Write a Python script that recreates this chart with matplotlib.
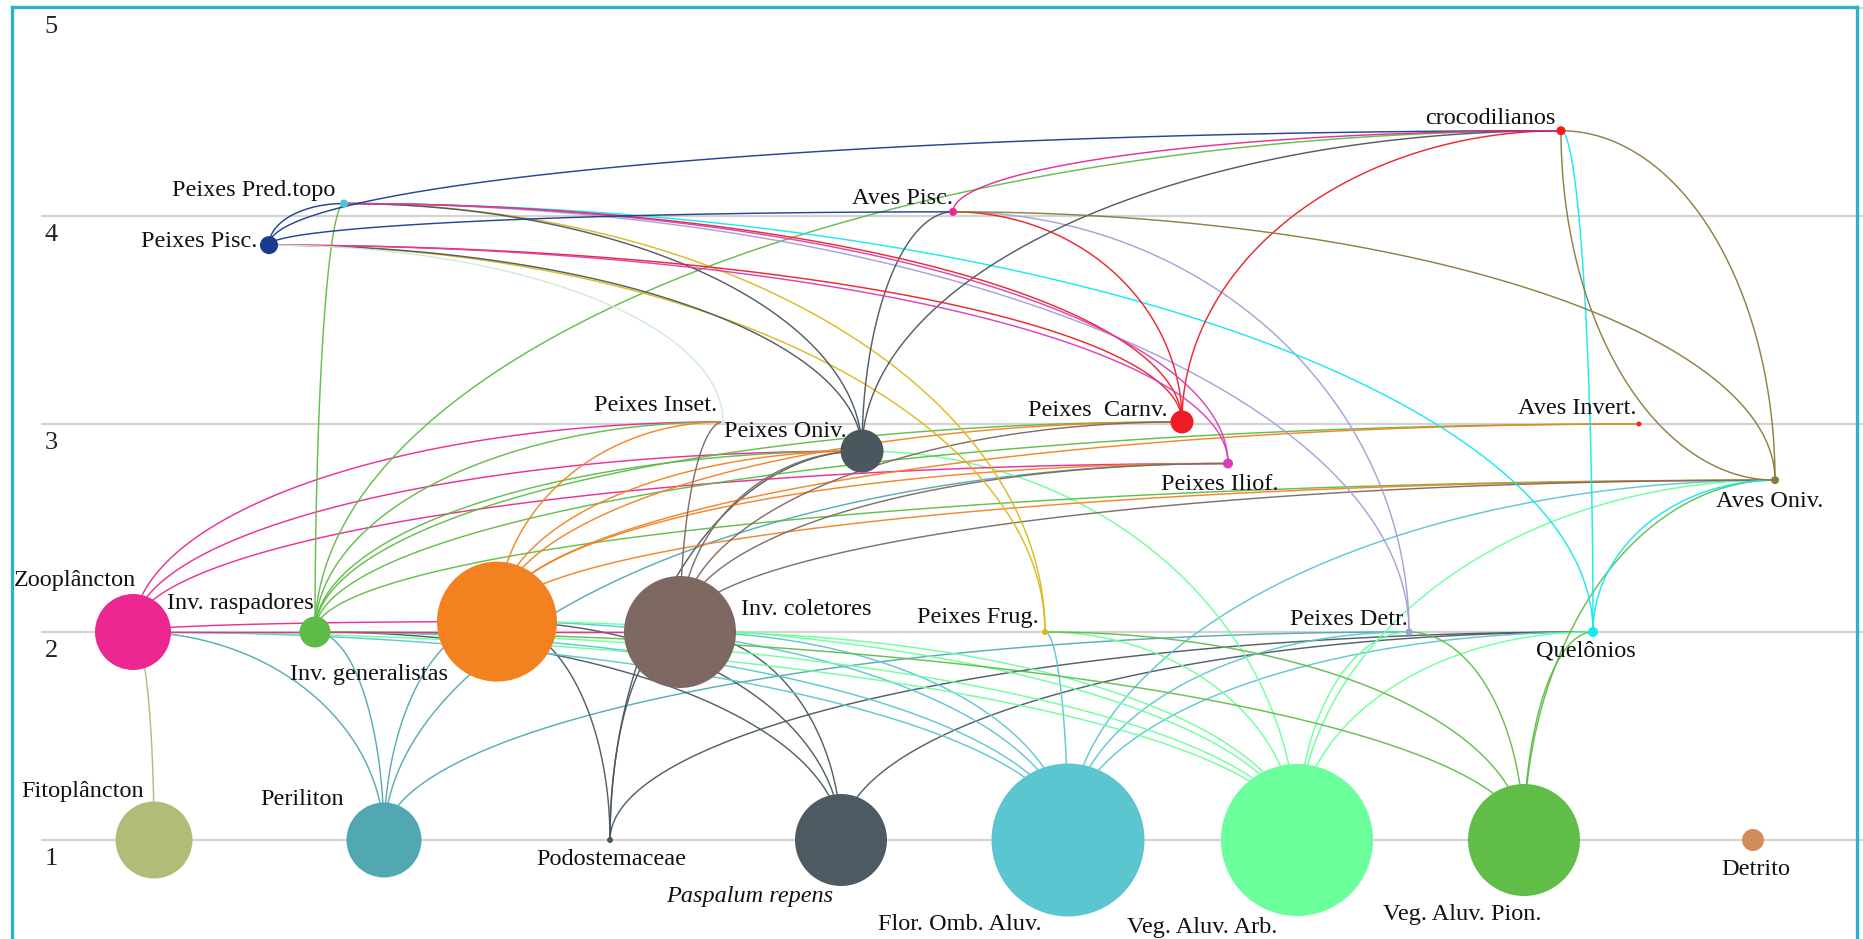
import numpy as np
import matplotlib.pyplot as plt
from matplotlib.lines import Line2D

W, H, DPI = 1863, 939, 100
PT = 72.0 / DPI  # points per pixel

# ---- nodes -------------------------------------------------------------
keys = ['fito', 'peri', 'podo', 'pasp', 'flor', 'vaa', 'vap', 'detrito',
        'zoo', 'rasp', 'gen', 'col', 'frug', 'detr', 'quel',
        'avoniv', 'iliof', 'oniv', 'carnv', 'inset', 'avinv',
        'pisc', 'pred', 'avpisc', 'croc']
labels = ['Fitoplâncton', 'Periliton', 'Podostemaceae', 'Paspalum repens', 'Flor. Omb. Aluv.',
          'Veg. Aluv. Arb.', 'Veg. Aluv. Pion.', 'Detrito',
          'Zooplâncton', 'Inv. raspadores', 'Inv. generalistas', 'Inv. coletores',
          'Peixes Frug.', 'Peixes Detr.', 'Quelônios',
          'Aves Oniv.', 'Peixes Iliof.', 'Peixes Oniv.', 'Peixes  Carnv.', 'Peixes Inset.', 'Aves Invert.',
          'Peixes Pisc.', 'Peixes Pred.topo', 'Aves Pisc.', 'crocodilianos']
xpos = [154, 384, 610, 841, 1068, 1297, 1524, 1753,
        133, 315, 497, 680, 1045, 1409, 1593,
        1775, 1228, 862, 1182, 723, 1639,
        269, 344, 953, 1561]
level = [1.0, 1.0, 1.0, 1.0, 1.0, 1.0, 1.0, 1.0,
         2.0, 2.0, 2.05, 2.0, 2.0, 2.0, 2.0,
         2.73, 2.81, 2.87, 3.01, 3.01, 3.0,
         3.86, 4.06, 4.02, 4.41]
diam = [77, 75, 6, 92, 153, 152, 112, 22,
        76, 31, 120, 112, 6, 7, 10,
        8, 10, 43, 23, 4, 5,
        18, 8, 8, 9]
colors = ['#afbd76', '#52a8b2', '#4b5860', '#4d5a61', '#5bc6cf', '#6aff9a', '#5fbd48', '#d28c5c',
          '#ec2791', '#5ebb47', '#f48120', '#7d6962', '#d9b91a', '#a49fd6', '#12e8ee',
          '#8a7a3a', '#da3db4', '#4b575e', '#ee1d25', '#cfead7', '#ff2020',
          '#1a3b8f', '#52c4d0', '#e8278f', '#ff1515']

# ---- links (prey, predator) -----------------------------------------------
links = [
    ('fito', 'zoo'),
    ('peri', 'zoo'), ('peri', 'rasp'), ('peri', 'gen'), ('peri', 'iliof'), ('peri', 'detr'),
    ('podo', 'gen'), ('podo', 'col'), ('podo', 'oniv'), ('podo', 'quel'),
    ('pasp', 'rasp'), ('pasp', 'gen'), ('pasp', 'col'), ('pasp', 'quel'),
    ('flor', 'zoo'), ('flor', 'rasp'), ('flor', 'gen'), ('flor', 'col'), ('flor', 'frug'),
    ('flor', 'detr'), ('flor', 'quel'), ('flor', 'avoniv'),
    ('vaa', 'zoo'), ('vaa', 'rasp'), ('vaa', 'gen'), ('vaa', 'col'), ('vaa', 'oniv'),
    ('vaa', 'frug'), ('vaa', 'detr'), ('vaa', 'quel'), ('vaa', 'avoniv'),
    ('vap', 'rasp'), ('vap', 'frug'), ('vap', 'detr'), ('vap', 'quel'), ('vap', 'avoniv'),
    ('zoo', 'gen'), ('zoo', 'col'), ('zoo', 'inset'), ('zoo', 'oniv'), ('zoo', 'iliof'),
    ('rasp', 'inset'), ('rasp', 'oniv'), ('rasp', 'carnv'), ('rasp', 'avinv'),
    ('rasp', 'avoniv'), ('rasp', 'pred'), ('rasp', 'croc'),
    ('gen', 'inset'), ('gen', 'oniv'), ('gen', 'carnv'), ('gen', 'iliof'),
    ('gen', 'avinv'), ('gen', 'avoniv'),
    ('col', 'inset'), ('col', 'oniv'), ('col', 'carnv'), ('col', 'iliof'), ('col', 'avoniv'),
    ('frug', 'pisc'), ('frug', 'pred'),
    ('detr', 'pred'), ('detr', 'avpisc'),
    ('quel', 'pred'), ('quel', 'croc'), ('quel', 'avoniv'),
    ('oniv', 'pisc'), ('oniv', 'pred'), ('oniv', 'avpisc'), ('oniv', 'croc'),
    ('carnv', 'pisc'), ('carnv', 'pred'), ('carnv', 'avpisc'), ('carnv', 'croc'),
    ('iliof', 'pisc'), ('iliof', 'pred'),
    ('inset', 'pisc'),
    ('pisc', 'pred'), ('pisc', 'avpisc'), ('pisc', 'croc'),
    ('avpisc', 'croc'),
    ('avoniv', 'avpisc'), ('avoniv', 'croc'),
]
# links drawn with the arc bent the other way
reverse_links = [('avoniv', 'croc')]

# label placement: (ha, dx px, dy px to baseline, upward positive)
label_pos = {
    'fito': ('center', -71, 43), 'peri': ('center', -82, 35), 'podo': ('center', 1, -25),
    'pasp': ('center', -91, -62), 'flor': ('center', -108, -90), 'vaa': ('center', -95, -93),
    'vap': ('center', -62, -80), 'detrito': ('center', 3, -35),
    'zoo': ('center', -58, 46), 'rasp': ('right', -1, 23), 'gen': ('center', -128, -58),
    'col': ('left', 61, 17), 'frug': ('right', -6, 9), 'detr': ('right', -1, 7),
    'quel': ('center', -7, -25), 'avoniv': ('center', -5, -27), 'iliof': ('center', -8, -26),
    'oniv': ('right', -15, 14), 'carnv': ('right', -14, 6), 'inset': ('right', -6, 11),
    'avinv': ('right', -2, 10), 'pisc': ('right', -12, -2), 'pred': ('right', -9, 8),
    'avpisc': ('right', 0, 8), 'croc': ('right', -5, 7),
}

idx = {k: i for i, k in enumerate(keys)}

fig = plt.figure(figsize=(W / DPI, H / DPI), dpi=DPI)
ax = fig.add_axes([0, 0, 1, 1])
ax.set_xlim(0, W)
# level 1 at 840 px from top, 208 px per level
ax.set_ylim(1 - (H - 840) / 208, 1 + 840 / 208)
ax.axis('off')

# grid
ax.hlines([1, 2, 3, 4, 5], 41, W, color='#d3d3d3', lw=1.6, zorder=0)
for lv in [1, 2, 3, 4, 5]:
    ax.annotate(str(lv), (51, lv), xytext=(0, -25 * PT), textcoords='offset points',
                ha='center', va='baseline', fontsize=19, family='Liberation Serif', color='#222222')


def arc(a, b, flip=False):
    xa, ya = xpos[idx[a]], level[idx[a]]
    xb, yb = xpos[idx[b]], level[idx[b]]
    if ya > yb or (ya == yb and xa > xb):
        xa, ya, xb, yb = xb, yb, xa, ya
    # a is the lower node, b the upper one
    t = np.linspace(0, np.pi / 2, 120)
    if not flip:
        xs = xb + (xa - xb) * np.cos(t)
        ys = ya + (yb - ya) * np.sin(t)
    else:
        xs = xa + (xb - xa) * np.cos(t)
        ys = yb - (yb - ya) * np.sin(t)
    return xs, ys


for prey, pred in links:
    xs, ys = arc(prey, pred)
    ax.plot(xs, ys, color=colors[idx[prey]], lw=1.05, alpha=0.95, zorder=1)
for prey, pred in reverse_links:
    xs, ys = arc(prey, pred, flip=True)
    ax.plot(xs, ys, color=colors[idx[prey]], lw=1.05, alpha=0.95, zorder=1)

ax.scatter(xpos, level, s=[(d * PT) ** 2 for d in diam], c=colors, linewidths=0, zorder=3)

for k, lab in zip(keys, labels):
    ha, dx, dy = label_pos[k]
    ax.annotate(lab, (xpos[idx[k]], level[idx[k]]), xytext=(dx * PT, dy * PT),
                textcoords='offset points', ha=ha, va='baseline', fontsize=17.5,
                family='Liberation Serif', style='italic' if k == 'pasp' else 'normal',
                color='#111111', zorder=4)

# frame around the plot
bc = '#2eb0c8'
fig.add_artist(Line2D([12 / W, 12 / W], [0, 1 - 7 / H], color=bc, lw=2.4))
fig.add_artist(Line2D([12 / W, 1857 / W], [1 - 7 / H, 1 - 7 / H], color=bc, lw=2.4))
fig.add_artist(Line2D([1857 / W, 1857 / W], [0, 1 - 7 / H], color=bc, lw=2.4))

fig.savefig('out.png', dpi=DPI)
